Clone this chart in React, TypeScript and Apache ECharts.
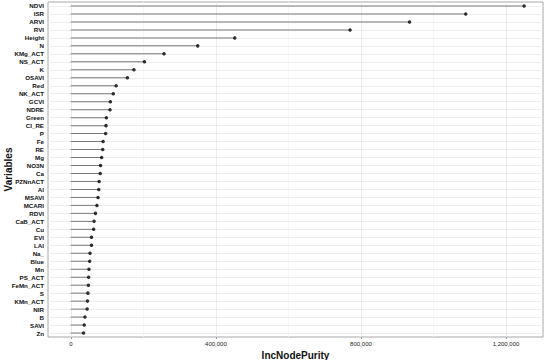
import React, { useEffect, useRef } from "react";
import * as echarts from "echarts";

const variables = [
  "NDVI", "ISR", "ARVI", "RVI", "Height", "N", "KMg_ACT", "NS_ACT", "K", "OSAVI",
  "Red", "NK_ACT", "GCVI", "NDRE", "Green", "CI_RE", "P", "Fe", "RE", "Mg",
  "NO3N", "Ca", "PZNnACT", "Al", "MSAVI", "MCARI", "RDVI", "CaB_ACT", "Cu", "EVI",
  "LAI", "Na_", "Blue", "Mn", "PS_ACT", "FeMn_ACT", "S", "KMn_ACT", "NIR", "B",
  "SAVI", "Zn",
];

const incNodePurity = [
  1250000, 1089000, 934000, 770000, 452000, 350000, 257000, 203000, 174000, 156000,
  125000, 117000, 109000, 108000, 98000, 97000, 96000, 89000, 88000, 85000,
  82000, 81000, 78000, 77000, 75000, 72000, 68000, 64000, 63000, 57000,
  57000, 53000, 52000, 50000, 49000, 48500, 47000, 46000, 45000, 39000,
  37000, 35000,
];

const majorTicks = [0, 400000, 800000, 1200000];
const minorTicks = [200000, 600000, 1000000];

export default function App() {
  const ref = useRef<HTMLDivElement>(null);
  useEffect(() => {
    if (!ref.current) return;
    const chart = echarts.init(ref.current, undefined, { renderer: "svg" });
    const gridLines: any[] = [
      ...variables.map((_, i) => ({ yAxis: i, lineStyle: { color: "#ebebeb", width: 0.8, type: "solid" } })),
      ...minorTicks.map((v) => ({ xAxis: v, lineStyle: { color: "#f3f3f3", width: 0.8, type: "solid" } })),
      ...majorTicks.map((v) => ({ xAxis: v, lineStyle: { color: "#e6e6e6", width: 0.8, type: "solid" } })),
    ];
    chart.setOption({
      animation: false,
      backgroundColor: "#ffffff",
      textStyle: { fontFamily: "'Liberation Sans', Arial, sans-serif" },
      grid: {
        left: 48,
        right: 7,
        top: 2,
        bottom: 23,
        containLabel: false,
        outerBoundsMode: "none",
        show: true,
        borderColor: "#a8a8a8",
        borderWidth: 1,
        backgroundColor: "transparent",
      },
      xAxis: {
        type: "value",
        min: -63000,
        max: 1302000,
        splitLine: { show: false },
        axisLine: { show: false },
        axisTick: { show: true, customValues: majorTicks, length: 2, lineStyle: { color: "#999" } },
        axisLabel: {
          customValues: majorTicks,
          formatter: (v: number) => v.toLocaleString("en-US"),
          fontSize: 6,
          color: "#222",
          margin: 4,
        },
        name: "IncNodePurity",
        nameLocation: "middle",
        nameGap: 13,
        nameMoveOverlap: false,
        nameTextStyle: { fontSize: 10, fontWeight: "bold", color: "#111" },
      },
      yAxis: {
        type: "category",
        data: variables,
        inverse: true,
        axisLine: { show: false },
        axisTick: { show: true, alignWithLabel: true, interval: 0, length: 2, lineStyle: { color: "#999" } },
        axisLabel: { interval: 0, fontSize: 6.2, fontWeight: "bold", color: "#111", margin: 4 },
        splitLine: { show: false },
        name: "Variables",
        nameLocation: "middle",
        nameGap: 35,
        nameRotate: 90,
        nameMoveOverlap: false,
        nameTextStyle: { fontSize: 10, fontWeight: "bold", color: "#111" },
      },
      series: [
        {
          type: "bar",
          data: incNodePurity,
          barWidth: 1,
          itemStyle: { color: "#7a7a7a" },
          z: 2,
          silent: true,
        },
        {
          type: "scatter",
          data: incNodePurity,
          symbolSize: 3.5,
          itemStyle: { color: "#000000" },
          z: 3,
          silent: true,
          markLine: {
            silent: true,
            z: 1,
            symbol: ["none", "none"],
            label: { show: false },
            data: gridLines,
          },
        },
      ],
    });
    return () => chart.dispose();
  }, []);
  return (
    <div
      ref={ref}
      style={{ position: "absolute", left: 0, top: 0, width: 550, height: 360, background: "#fff" }}
    />
  );
}
